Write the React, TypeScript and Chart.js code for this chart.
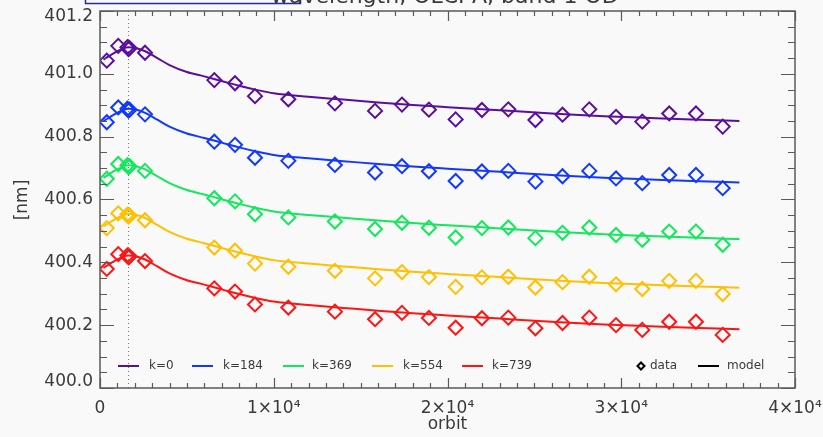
import React, { useEffect, useRef } from 'react';
import { Chart, registerables } from 'chart.js';

Chart.register(...registerables);

// ---- data ----
const orbits = [390, 1050, 1580, 1640, 1700, 2590, 6580, 7770, 8920, 10840, 13520, 15830, 17380, 18930, 20470, 21980, 23500, 25060, 26620, 28160, 29700, 31210, 32760, 34300, 35840];

const dataK0 = [401.042, 401.089, 401.085, 401.079, 401.082, 401.067, 400.980, 400.970, 400.929, 400.919, 400.906, 400.882, 400.902, 400.886, 400.855, 400.885, 400.887, 400.853, 400.870, 400.887, 400.863, 400.848, 400.874, 400.874, 400.832];
const dataK184 = [400.846, 400.893, 400.889, 400.883, 400.886, 400.871, 400.784, 400.774, 400.733, 400.723, 400.710, 400.686, 400.706, 400.690, 400.659, 400.689, 400.691, 400.657, 400.674, 400.691, 400.667, 400.652, 400.678, 400.678, 400.636];
const dataK369 = [400.666, 400.713, 400.709, 400.703, 400.706, 400.691, 400.604, 400.594, 400.553, 400.543, 400.530, 400.506, 400.526, 400.510, 400.479, 400.509, 400.511, 400.477, 400.494, 400.511, 400.487, 400.472, 400.498, 400.498, 400.456];
const dataK554 = [400.509, 400.556, 400.552, 400.546, 400.549, 400.534, 400.447, 400.437, 400.396, 400.386, 400.373, 400.349, 400.369, 400.353, 400.322, 400.352, 400.354, 400.320, 400.337, 400.354, 400.330, 400.315, 400.341, 400.341, 400.299];
const dataK739 = [400.379, 400.426, 400.422, 400.416, 400.419, 400.404, 400.317, 400.307, 400.266, 400.256, 400.243, 400.219, 400.239, 400.223, 400.192, 400.222, 400.224, 400.190, 400.207, 400.224, 400.200, 400.185, 400.211, 400.211, 400.169];

const modelOrbits = [200, 800, 1300, 1630, 2000, 2600, 3300, 4000, 5000, 6000, 7000, 8000, 9000, 10000, 12000, 14000, 16000, 18000, 20000, 23000, 26000, 29000, 32000, 34500, 36800];
const modelK0 = [401.045, 401.066, 401.080, 401.085, 401.083, 401.072, 401.050, 401.028, 401.006, 400.992, 400.977, 400.962, 400.949, 400.938, 400.927, 400.918, 400.909, 400.901, 400.894, 400.884, 400.874, 400.865, 400.859, 400.854, 400.850];
const modelK184 = [400.849, 400.870, 400.884, 400.889, 400.887, 400.876, 400.854, 400.832, 400.810, 400.796, 400.781, 400.766, 400.753, 400.742, 400.731, 400.722, 400.713, 400.705, 400.698, 400.688, 400.678, 400.669, 400.663, 400.658, 400.654];
const modelK369 = [400.669, 400.690, 400.704, 400.709, 400.707, 400.696, 400.674, 400.652, 400.630, 400.616, 400.601, 400.586, 400.573, 400.562, 400.551, 400.542, 400.533, 400.525, 400.518, 400.508, 400.498, 400.489, 400.483, 400.478, 400.474];
const modelK554 = [400.514, 400.535, 400.549, 400.554, 400.552, 400.541, 400.519, 400.497, 400.475, 400.461, 400.446, 400.431, 400.418, 400.407, 400.396, 400.387, 400.378, 400.370, 400.363, 400.353, 400.343, 400.334, 400.328, 400.323, 400.319];
const modelK739 = [400.382, 400.403, 400.417, 400.422, 400.420, 400.409, 400.387, 400.365, 400.343, 400.329, 400.314, 400.299, 400.286, 400.275, 400.264, 400.255, 400.246, 400.238, 400.231, 400.221, 400.211, 400.202, 400.196, 400.191, 400.187];

const seriesLabels = ['k=0', 'k=184', 'k=369', 'k=554', 'k=739'];
const seriesColors = ['#5a0e9e', '#1238ff', '#12e85c', '#ffc000', '#ff1414'];
const seriesData = [dataK0, dataK184, dataK369, dataK554, dataK739];
const seriesModel = [modelK0, modelK184, modelK369, modelK554, modelK739];

const xTickValues = [0, 10000, 20000, 30000, 40000];
const xTickLabels = ['0', '1×10⁴', '2×10⁴', '3×10⁴', '4×10⁴'];
const yMin = 400.0;
const yMax = 401.2;
const refOrbit = 1630;
const titleText = 'wavelength, OLCI-A, band 1 OD';
const xTitle = 'orbit';
const yTitle = '[nm]';

const BG = '#f9f9f9';
const AXIS = '#5a5a5a';
const TEXT = '#3a3a3a';
const FONT = '"DejaVu Sans", sans-serif';

const decorPlugin = {
  id: 'decor',
  beforeDraw(chart: any) {
    const ctx = chart.ctx;
    ctx.save();
    ctx.fillStyle = BG;
    ctx.fillRect(0, 0, chart.width, chart.height);
    ctx.restore();
  },
  beforeDatasetsDraw(chart: any) {
    const { ctx, chartArea, scales } = chart;
    const x = Math.round(scales.x.getPixelForValue(refOrbit)) + 0.5;
    ctx.save();
    ctx.strokeStyle = '#777777';
    ctx.lineWidth = 1;
    ctx.setLineDash([1, 3]);
    ctx.beginPath();
    ctx.moveTo(x, chartArea.top);
    ctx.lineTo(x, chartArea.bottom);
    ctx.stroke();
    ctx.restore();
  },
  afterDraw(chart: any) {
    const { ctx, chartArea, scales } = chart;
    const { left, right, top, bottom } = chartArea;
    ctx.save();
    // axis box
    ctx.strokeStyle = AXIS;
    ctx.lineWidth = 1.5;
    ctx.strokeRect(left, top, right - left, bottom - top);
    // x ticks
    ctx.lineWidth = 1.2;
    ctx.beginPath();
    for (let i = 0; i <= 40; i++) {
      const v = i * 1000;
      const px = Math.round(scales.x.getPixelForValue(v)) + 0.5;
      const len = i % 10 === 0 ? 10 : 5;
      ctx.moveTo(px, bottom);
      ctx.lineTo(px, bottom - len);
      ctx.moveTo(px, top);
      ctx.lineTo(px, top + len);
    }
    // y ticks
    for (let i = 0; i <= 24; i++) {
      const v = yMin + i * 0.05;
      const py = Math.round(scales.y.getPixelForValue(v)) + 0.5;
      const len = i % 4 === 0 ? 14 : 7;
      ctx.moveTo(left, py);
      ctx.lineTo(left + len, py);
      ctx.moveTo(right, py);
      ctx.lineTo(right - len, py);
    }
    ctx.stroke();

    // legend
    const ly = 366;
    const lineXs = [118, 192, 283, 372, 462];
    const textXs = [149, 223, 312, 403, 492];
    ctx.font = '12px ' + FONT;
    ctx.textBaseline = 'middle';
    ctx.textAlign = 'left';
    ctx.lineWidth = 2;
    for (let i = 0; i < seriesLabels.length; i++) {
      ctx.strokeStyle = seriesColors[i];
      ctx.beginPath();
      ctx.moveTo(lineXs[i], ly);
      ctx.lineTo(lineXs[i] + 21, ly);
      ctx.stroke();
      ctx.fillStyle = TEXT;
      ctx.fillText(seriesLabels[i], textXs[i], ly);
    }
    // data symbol
    ctx.strokeStyle = '#000000';
    ctx.lineWidth = 2;
    ctx.beginPath();
    ctx.moveTo(641, ly - 3.5);
    ctx.lineTo(644.5, ly);
    ctx.lineTo(641, ly + 3.5);
    ctx.lineTo(637.5, ly);
    ctx.closePath();
    ctx.stroke();
    ctx.fillText('data', 650, ly);
    ctx.beginPath();
    ctx.moveTo(698, ly);
    ctx.lineTo(719, ly);
    ctx.stroke();
    ctx.fillText('model', 727, ly);

    // axis titles
    ctx.fillStyle = TEXT;
    ctx.font = '17px ' + FONT;
    ctx.textAlign = 'center';
    ctx.fillText(xTitle, (left + right) / 2, 425);
    ctx.save();
    ctx.translate(23, 200);
    ctx.rotate(-Math.PI / 2);
    ctx.fillText(yTitle, 0, 0);
    ctx.restore();

    // clipped title + box
    ctx.strokeStyle = '#2a2a9a';
    ctx.lineWidth = 1.5;
    ctx.strokeRect(85.5, -20, 215, 23.5);
    ctx.font = '22px ' + FONT;
    ctx.textAlign = 'left';
    ctx.textBaseline = 'alphabetic';
    ctx.fillStyle = TEXT;
    ctx.fillText(titleText, 271, 3);
    ctx.restore();
  },
};

export default function App() {
  const canvasRef = useRef<HTMLCanvasElement | null>(null);

  useEffect(() => {
    document.body.style.margin = '0';
    document.body.style.background = BG;
    const canvas = canvasRef.current;
    if (!canvas) return;

    const datasets: any[] = [];
    for (let i = 0; i < seriesLabels.length; i++) {
      datasets.push({
        label: seriesLabels[i] + ' model',
        data: modelOrbits.map((x, j) => ({ x, y: seriesModel[i][j] })),
        showLine: true,
        borderColor: seriesColors[i],
        borderWidth: 2,
        pointRadius: 0,
        cubicInterpolationMode: 'monotone',
        fill: false,
      });
      datasets.push({
        label: seriesLabels[i] + ' data',
        data: orbits.map((x, j) => ({ x, y: seriesData[i][j] })),
        showLine: false,
        pointStyle: 'rectRot',
        pointRadius: 7,
        pointHoverRadius: 7,
        pointBorderWidth: 2,
        borderColor: seriesColors[i],
        backgroundColor: 'rgba(0,0,0,0)',
        pointBackgroundColor: 'rgba(0,0,0,0)',
      });
    }

    const chart = new Chart(canvas, {
      type: 'scatter',
      data: { datasets },
      options: {
        animation: false,
        responsive: false,
        devicePixelRatio: 1,
        layout: { padding: { top: 11, right: 28, left: 0, bottom: 0 } },
        plugins: { legend: { display: false }, tooltip: { enabled: false }, title: { display: false } },
        scales: {
          x: {
            type: 'linear',
            min: 0,
            max: 40000,
            afterFit: (s: any) => { s.height = 49; s.paddingLeft = 0; s.paddingRight = 0; },
            afterBuildTicks: (s: any) => { s.ticks = xTickValues.map((v) => ({ value: v })); },
            grid: { display: false, drawTicks: false },
            border: { display: false },
            ticks: {
              autoSkip: false,
              maxRotation: 0,
              padding: 10,
              color: TEXT,
              font: { family: FONT, size: 17 },
              callback: (v: any) => {
                const idx = xTickValues.indexOf(Number(v));
                return idx >= 0 ? xTickLabels[idx] : '';
              },
            },
          },
          y: {
            type: 'linear',
            min: yMin,
            max: yMax,
            afterFit: (s: any) => { s.width = 100; s.paddingTop = 0; s.paddingBottom = 0; },
            grid: { display: false, drawTicks: false },
            border: { display: false },
            ticks: {
              stepSize: 0.2,
              padding: 7,
              color: TEXT,
              font: { family: FONT, size: 17, lineHeight: 0.7 },
              callback: (v: any) => {
                const n = Number(v);
                const s = n.toFixed(1);
                if (Math.abs(n - yMax) < 1e-6) return ['', s];
                if (Math.abs(n - yMin) < 1e-6) return [s, ''];
                return s;
              },
            },
          },
        },
      },
      plugins: [decorPlugin],
    });

    return () => chart.destroy();
  }, []);

  return (
    <div style={{ position: 'fixed', left: 0, top: 0, width: 823, height: 437, background: BG }}>
      <canvas ref={canvasRef} width={823} height={437} style={{ display: 'block' }} />
    </div>
  );
}
